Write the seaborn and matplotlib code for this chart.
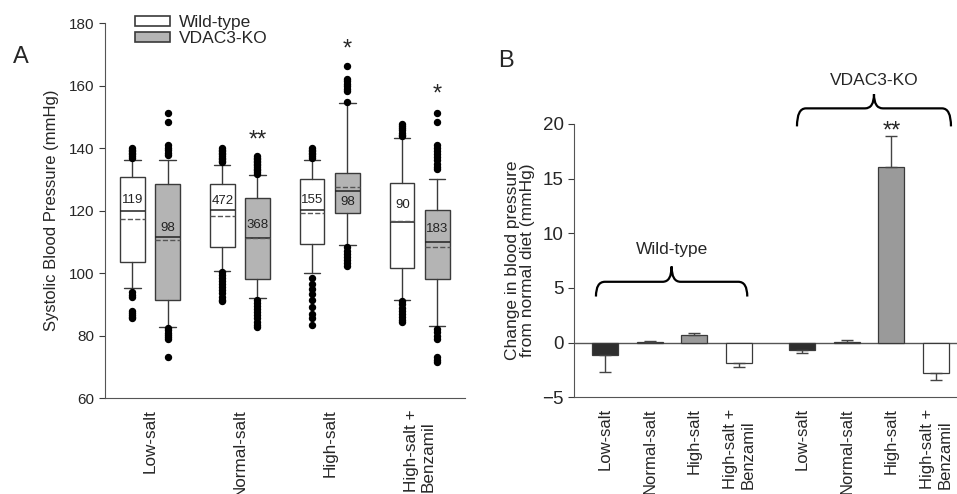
import seaborn as sns
import matplotlib.pyplot as plt
import pandas as pd
from matplotlib.patches import Rectangle, PathPatch
from matplotlib.path import Path

# ---- panel A: summary statistics ----
diets = ['Low-salt', 'Normal-salt', 'High-salt', 'High-salt +\nBenzamil']

wt_whislo = [95.2, 100.7, 100.0, 91.5]
wt_q1 = [103.5, 108.3, 109.3, 101.7]
wt_med = [119.8, 120.1, 120.1, 116.5]
wt_mean = [117.3, 118.3, 119.2, 116.6]
wt_q3 = [130.9, 128.5, 130.2, 129.0]
wt_whishi = [136.2, 134.7, 136.2, 143.2]
wt_n = [119, 472, 155, 90]
wt_fliers = [
    [137, 137.5, 138, 138.5, 139, 139.5, 140, 94, 93, 92.5, 88, 87.3, 86.6, 86, 85.5],
    [135.5, 136, 136.5, 137, 137.5, 138, 138.5, 139, 139.5, 140,
     100.5, 99.5, 98.5, 97.5, 96.5, 95.5, 94.5, 93.5, 92.5, 91.5, 91],
    [136.8, 137.5, 138, 138.5, 139, 139.5, 140,
     98.3, 96.5, 94.8, 93.2, 91.5, 89.3, 87, 85.6, 83.5],
    [147.8, 147.2, 146.5, 145.8, 145, 144.3, 143.8,
     91, 90, 89, 88, 87, 86, 85, 84.3],
]

ko_whislo = [82.9, 92.0, 109.1, 83.0]
ko_q1 = [91.5, 98.2, 119.4, 98.2]
ko_med = [111.5, 111.1, 126.4, 110.1]
ko_mean = [110.7, 111.3, 127.5, 108.5]
ko_q3 = [128.5, 124.0, 132.0, 120.1]
ko_whishi = [136.3, 131.3, 154.6, 130.1]
ko_n = [98, 368, 98, 183]
ko_fliers = [
    [151.2, 148.3, 141, 140.2, 139.4, 138.6, 137.8, 82.5, 81.8, 81, 80.3, 79.5, 79, 73.1],
    [131.8, 132.5, 133, 133.5, 134, 134.5, 135, 135.5, 136, 136.5, 137, 137.5,
     91.5, 90.5, 89.5, 88.5, 87.5, 86.5, 85.5, 84.5, 83.5, 82.8],
    [166.2, 162.2, 161.4, 160.6, 159.8, 159, 158.2, 154.8,
     108.3, 107.2, 106.2, 105.2, 104.2, 103.2, 102.3],
    [151.3, 148.4, 141.1, 140.1, 139.1, 138.1, 137.1, 136.1, 135.1, 134.1, 133.2,
     82.2, 81.2, 80, 79, 73.2, 72.3, 71.5],
]
wt_label_y = [123.3, 123.1, 123.3, 121.9]
ko_label_y = [114.4, 115.5, 122.9, 114.2]

# ---- panel B: change from normal diet ----
group = ['Wild-type'] * 4 + ['VDAC3-KO'] * 4
diet_b = diets * 2
change = [-1.15, 0.05, 0.68, -1.85, -0.70, 0.05, 16.05, -2.78]
sem = [1.53, 0.12, 0.15, 0.43, 0.22, 0.17, 2.87, 0.67]
bar_pos = [0, 1, 2, 3, 4.4, 5.4, 6.4, 7.4]

sns.set_style('ticks')
plt.rcParams['font.family'] = ['Liberation Sans', 'DejaVu Sans']
edge = '#3a3a3a'

fig = plt.figure(figsize=(9.57, 4.94), dpi=100)
axA = fig.add_axes([0.1097, 0.194, 0.376, 0.759])
axB = fig.add_axes([0.5998, 0.196, 0.400, 0.553])


def stats_for(lo, q1, med, mean, q3, hi, fl):
    return [dict(whislo=a, q1=b, med=c, mean=d, q3=e, whishi=f, fliers=g)
            for a, b, c, d, e, f, g in zip(lo, q1, med, mean, q3, hi, fl)]


centers = [1, 2, 3, 4]
for st, off, fc in [
    (stats_for(wt_whislo, wt_q1, wt_med, wt_mean, wt_q3, wt_whishi, wt_fliers), -0.195, 'white'),
    (stats_for(ko_whislo, ko_q1, ko_med, ko_mean, ko_q3, ko_whishi, ko_fliers), 0.195, '#b4b4b4'),
]:
    axA.bxp(st, positions=[c + off for c in centers], widths=0.27, capwidths=0.18,
            patch_artist=True, showmeans=True, meanline=True, manage_ticks=False,
            boxprops=dict(facecolor=fc, edgecolor=edge, linewidth=1),
            medianprops=dict(color='#222222', linewidth=1.1),
            meanprops=dict(color='#555555', linestyle='--', linewidth=1),
            whiskerprops=dict(color=edge, linewidth=1),
            capprops=dict(color=edge, linewidth=1),
            flierprops=dict(marker='o', markerfacecolor='black', markeredgecolor='black',
                            markersize=4.3, linestyle='none'))

for c, n, y in zip(centers, wt_n, wt_label_y):
    axA.text(c - 0.195, y, str(n), ha='center', va='center', fontsize=9.5, color='#222')
for c, n, y in zip(centers, ko_n, ko_label_y):
    axA.text(c + 0.195, y, str(n), ha='center', va='center', fontsize=9.5, color='#222')

for c, s, y in [(2, '**', 142.3), (3, '*', 171.5), (4, '*', 157.3)]:
    axA.text(c + 0.195, y, s, ha='center', va='center', fontsize=17)

axA.set_xlim(0.5, 4.5)
axA.set_ylim(60, 180)
axA.set_yticks(range(60, 181, 20))
axA.set_xticks(centers, diets, rotation=90, fontsize=12.3)
axA.tick_params(axis='x', length=0, pad=8)
axA.tick_params(axis='y', labelsize=11, length=4, color=edge)
axA.set_ylabel('Systolic Blood Pressure (mmHg)', fontsize=12, labelpad=7)
sns.despine(ax=axA)
for sp in axA.spines.values():
    sp.set_color('#555555')

handles = [Rectangle((0, 0), 1, 1, facecolor='white', edgecolor=edge, lw=1.2),
           Rectangle((0, 0), 1, 1, facecolor='#b4b4b4', edgecolor=edge, lw=1.2)]
axA.legend(handles, ['Wild-type', 'VDAC3-KO'], loc='upper left', bbox_to_anchor=(0.065, 1.04),
           frameon=False, fontsize=12.5, handlelength=2.0, handleheight=0.5,
           handletextpad=0.5, labelspacing=0.05, borderaxespad=0)

fig.text(0.014, 0.885, 'A', fontsize=17, va='center')
fig.text(0.521, 0.877, 'B', fontsize=17, va='center')

# ---- panel B drawing ----
df = pd.DataFrame({'pos': bar_pos, 'change': change, 'sem': sem,
                   'group': group, 'diet': diet_b})
pal = {diets[0]: '#2e2e2e', diets[1]: '#ffffff', diets[2]: '#9a9a9a', diets[3]: '#ffffff'}
sns.barplot(data=df, x='pos', y='change', hue='diet', palette=pal, native_scale=True,
            dodge=False, width=0.58, edgecolor=edge, linewidth=0.9, legend=False,
            errorbar=None, ax=axB)
lower = [s if v < 0 else 0 for v, s in zip(change, sem)]
upper = [s if v >= 0 else 0 for v, s in zip(change, sem)]
axB.errorbar(bar_pos, change, yerr=[lower, upper], fmt='none', ecolor='#444444',
             elinewidth=1, capsize=4, capthick=1)
axB.axhline(0, color='#555555', lw=1, zorder=0.5)

axB.set_xlim(-0.69, 7.86)
axB.set_ylim(-5, 20)
axB.set_yticks(range(-5, 21, 5))
axB.set_xticks(bar_pos, diet_b, rotation=90, fontsize=12)
axB.set_xlabel('')
axB.tick_params(axis='x', length=0, pad=8)
axB.tick_params(axis='y', labelsize=13.5, length=4, color=edge)
axB.set_ylabel('Change in blood pressure\nfrom normal diet (mmHg)', fontsize=12.5,
               labelpad=5, linespacing=1.0)
sns.despine(ax=axB)
for sp in axB.spines.values():
    sp.set_color('#555555')

for lab in axA.get_xticklabels() + axB.get_xticklabels():
    lab.set_multialignment('left')


def brace(ax, x0, x1, y, h, tip, rx):
    xm = (x0 + x1) / 2
    verts = [(x0, y - h), (x0, y), (x0 + rx, y), (xm - rx, y), (xm, y), (xm, y + tip),
             (xm, y), (xm + rx, y), (x1 - rx, y), (x1, y), (x1, y - h)]
    codes = [Path.MOVETO, Path.CURVE3, Path.CURVE3, Path.LINETO, Path.CURVE3, Path.CURVE3,
             Path.CURVE3, Path.CURVE3, Path.LINETO, Path.CURVE3, Path.CURVE3]
    ax.add_patch(PathPatch(Path(verts, codes), fill=False, lw=1.6, color='black',
                           clip_on=False, capstyle='butt'))


brace(axB, -0.2, 3.18, 5.56, 1.35, 1.4, 0.2)
axB.text(1.49, 8.5, 'Wild-type', ha='center', va='center', fontsize=12.5)
brace(axB, 4.29, 7.73, 21.43, 1.65, 1.3, 0.2)
axB.text(6.02, 24.0, 'VDAC3-KO', ha='center', va='center', fontsize=12.5, clip_on=False)
axB.text(6.4, 19.3, '**', ha='center', va='center', fontsize=17)

fig.savefig('out.png', dpi=100)
